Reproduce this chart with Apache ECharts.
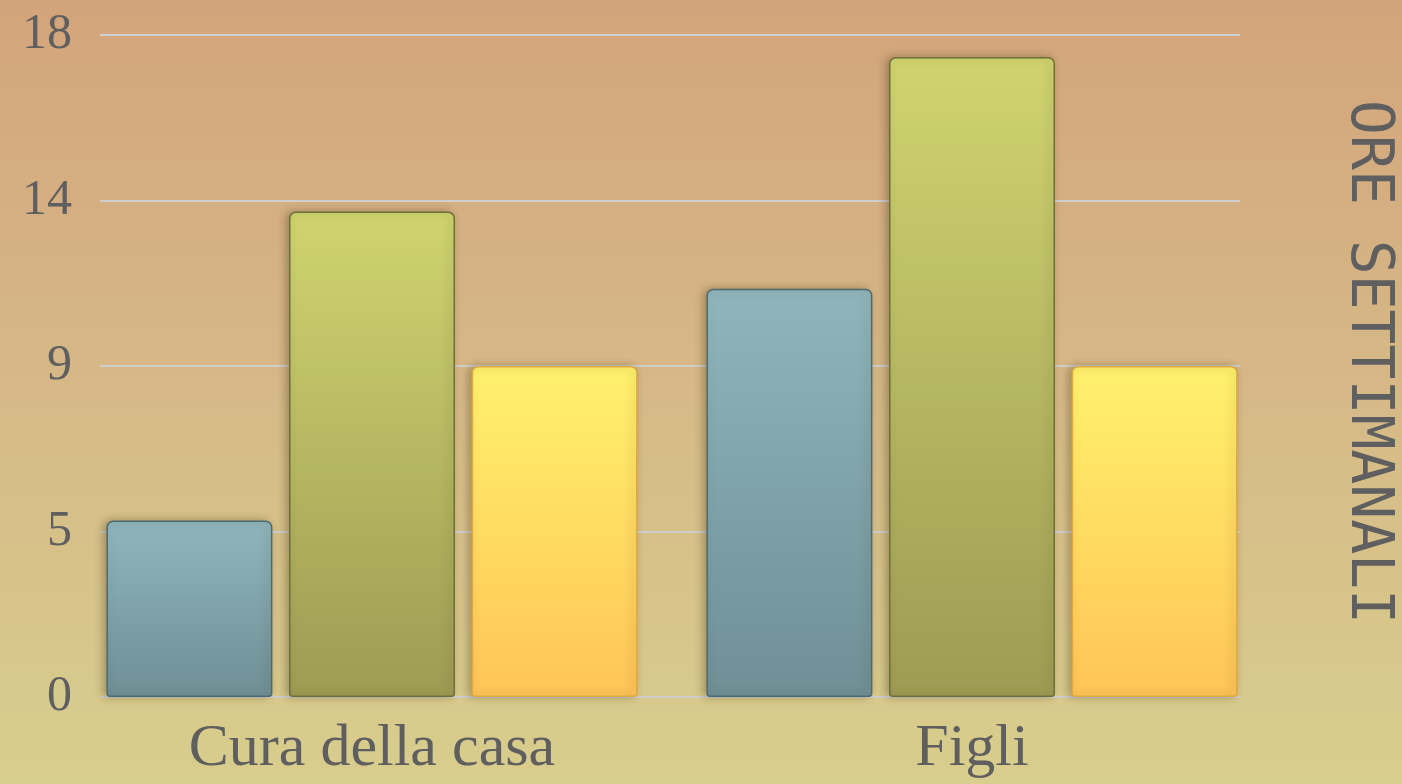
<!DOCTYPE html>
<html>
<head>
<meta charset="utf-8">
<style>html,body{margin:0;padding:0;}#c{width:1402px;height:784px;}</style>
<script src="https://cdn.jsdelivr.net/npm/echarts@6/dist/echarts.min.js"></script>
</head>
<body>
<div id="c"></div>
<script>
const categories = ['Cura della casa', 'Figli'];
const serieA = [4.8, 11.1];
const serieB = [13.2, 17.4];
const serieC = [9.0, 9.0];
const axisTitle = 'ORE SETTIMANALI';

const chart = echarts.init(document.getElementById('c'));
function grad(top, bottom) {
  return new echarts.graphic.LinearGradient(0, 0, 0, 1, [
    {offset: 0, color: top}, {offset: 1, color: bottom}
  ]);
}
function barSeries(data, top, bottom, border) {
  return {
    type: 'bar', data: data, xAxisIndex: 0, yAxisIndex: 0,
    barWidth: 166, barGap: '10%',
    itemStyle: {
      color: grad(top, bottom),
      borderColor: border, borderWidth: 1.5,
      borderRadius: [6, 6, 3, 3],
      shadowColor: 'rgba(60,50,20,0.35)', shadowBlur: 8, shadowOffsetX: -3
    }
  };
}
const labelFont = '"Liberation Serif", "DejaVu Serif", serif';
chart.setOption({
  backgroundColor: new echarts.graphic.LinearGradient(0, 0, 0, 1, [
    {offset: 0, color: '#d3a47b'}, {offset: 0.5, color: '#d6b987'}, {offset: 1, color: '#d8ce8d'}
  ]),
  animation: false,
  grid: [
    {left: 72, right: 130, top: 35, bottom: 87},
    {left: 100, right: 162, top: 35, bottom: 87}
  ],
  xAxis: [
    {type: 'category', gridIndex: 0, data: categories,
     axisLine: {show: false}, axisTick: {show: false},
     axisLabel: {color: '#5f5f5f', fontFamily: labelFont, fontSize: 60, margin: 22}},
    {type: 'value', gridIndex: 1, show: false, min: 0, max: 1}
  ],
  yAxis: [
    {type: 'value', gridIndex: 0, min: 0, max: 18, interval: 4.5,
     splitLine: {show: false}, axisLine: {show: false}, axisTick: {show: false},
     axisLabel: {show: false}},
    {type: 'value', gridIndex: 1, min: 0, max: 18, interval: 4.5,
     axisLine: {show: false}, axisTick: {show: false},
     splitLine: {lineStyle: {color: '#cfcfcf', width: 2}},
     axisLabel: {color: '#5f5f5f', fontFamily: labelFont, fontSize: 50, margin: 28,
                 formatter: v => String(Math.round(v))}}
  ],
  series: [
    barSeries(serieA, '#8fb6bd', '#6e8f95', '#4e6a70'),
    barSeries(serieB, '#cfd46f', '#9c9c54', '#6e6e38'),
    barSeries(serieC, '#fff26d', '#ffc457', '#e0a840')
  ],
  graphic: [{
    type: 'text', x: 1367, y: 362, rotation: -Math.PI / 2,
    style: {text: axisTitle, fill: '#5f5f5f', font: '58px "DejaVu Sans Mono", monospace',
            textAlign: 'center', textVerticalAlign: 'middle'}
  }]
});
</script>
</body>
</html>
